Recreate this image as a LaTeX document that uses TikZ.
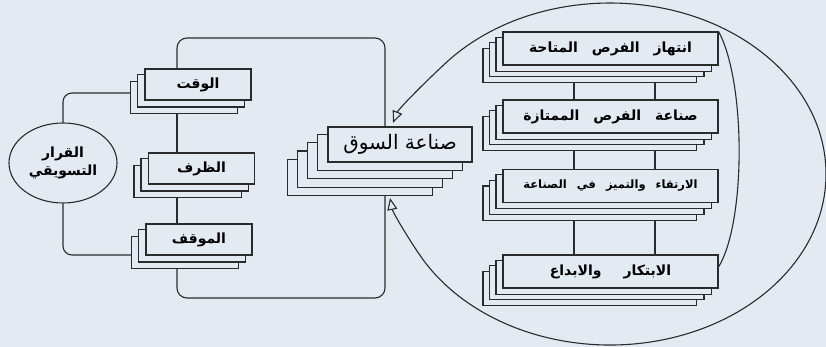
\documentclass[tikz,border=0pt]{standalone}
\usepackage{fontspec}
\newfontfamily\arabicfont[Script=Arabic]{DejaVu Sans}
\TeXXeTstate=1
\usetikzlibrary{calc,backgrounds,arrows.meta,shapes.geometric}

\definecolor{paper}{HTML}{E3EAF2}
\definecolor{ink}{HTML}{2B2B2B}

\newcommand{\rtl}[1]{\beginR #1\endR}
\newcommand{\sheets}[5]{%
  \foreach \i in {#2,...,1}
    \draw[sheet] ($(#1.north west)+(-#3*\i,-#4*\i)$) rectangle ($(#1.south east)+(-#5*\i,-#4*\i)$);
}

\tikzset{
  sheet/.style={draw=ink, fill=paper, line width=1.1pt},
  card/.style={sheet, inner sep=0pt, minimum width=106pt, minimum height=31pt,
    font=\arabicfont\bfseries\fontsize{14}{16}\selectfont},
  wide/.style={card, minimum width=215pt, minimum height=33pt},
  link/.style={draw=ink, line width=1.1pt},
  ringline/.style={link, arrows={Triangle[open,length=12pt,width=10pt]-Triangle[open,length=12pt,width=10pt]}},
}

\begin{document}
\begin{tikzpicture}[x=1pt,y=1pt]
  \useasboundingbox (0,0) rectangle (826,347);

  \node[sheet, ellipse, inner sep=0pt, minimum width=108pt, minimum height=80pt, align=center,
    font=\arabicfont\bfseries\fontsize{14}{18}\selectfont] (dec) at (63,184) {\rtl{القرار}\\\rtl{التسويقي}};

  \node[card] (time) at (198,262.5) {\rtl{الوقت}};
  \node[card] (cond) at (201.5,178.5) {\rtl{الظرف}};
  \node[card] (stand) at (199,107.5) {\rtl{الموقف}};

  \node[card, minimum width=144pt, minimum height=35pt,
    font=\arabicfont\fontsize{20}{22}\selectfont] (market) at (400,202.5) {\rtl{صناعة السوق}};

  \node[wide] (seize) at (610.5,298.5) {\rtl{انتهاز\hspace{14pt}الفرص\hspace{14pt}المتاحة}};
  \node[wide] (craft) at (610.5,230.5) {\rtl{صناعة\hspace{14pt}الفرص\hspace{14pt}الممتازة}};
  \node[wide, font=\arabicfont\bfseries\fontsize{11.5}{13}\selectfont] (rise) at (610.5,161) {\rtl{الارتقاء\hspace{10pt}والتميز\hspace{10pt}في\hspace{10pt}الصناعة}};
  \node[wide] (create) at (610.5,75.5) {\rtl{الابتكار\hspace{22pt}والابداع}};

  \coordinate (spine) at (177,0);
  \coordinate (rail) at (385,0);
  \coordinate (top) at (0,309);
  \coordinate (bot) at (0,49);
  \coordinate (inT) at (393,224);
  \coordinate (inB) at (390,149);

  \begin{pgfonlayer}{background}
    \fill[paper] (0,0) rectangle (826,347);

    \draw[link, rounded corners=9pt] (dec.north) |- ([yshift=-8.5pt]time.west);
    \draw[link, rounded corners=9pt] (dec.south) |- ([yshift=-15.5pt]stand.west);
    \draw[link, rounded corners=10pt] (spine |- time.north) |- (top -| rail) -- (rail |- market.north);
    \draw[link, rounded corners=10pt] (spine |- stand.south) |- (bot -| rail) -- (rail |- market.south);
    \draw[link] (spine |- time.south) -- (spine |- cond.north);
    \draw[link] (spine |- cond.south) -- (spine |- stand.north);

    \foreach \a/\b in {seize/craft, craft/rise, rise/create}{
      \draw[link] ([xshift=-36.5pt]\a.south) -- ([xshift=-36.5pt]\b.north);
      \draw[link] ([xshift=44.5pt]\a.south) -- ([xshift=44.5pt]\b.north);
    }
    \draw[link] (seize.north east) .. controls (746,265) and (746,125) .. ([yshift=4.5pt]create.east);

    \draw[ringline] (inT) .. controls (399,239) and (435,274.5) .. (449.5,287.4)
      arc[start angle=138, end angle=-148.7, x radius=216, y radius=171]
      .. controls (414,99) and (393,134) .. (inB);

    \sheets{time}{2}{7}{6.5}{7}
    \sheets{cond}{2}{7}{6.5}{7}
    \sheets{stand}{2}{7}{6.5}{7}
    \sheets{market}{4}{10}{8.2}{10}
    \foreach \n in {seize,craft,rise,create}{\sheets{\n}{3}{6.5}{5.7}{7.3}}
  \end{pgfonlayer}
\end{tikzpicture}
\end{document}
